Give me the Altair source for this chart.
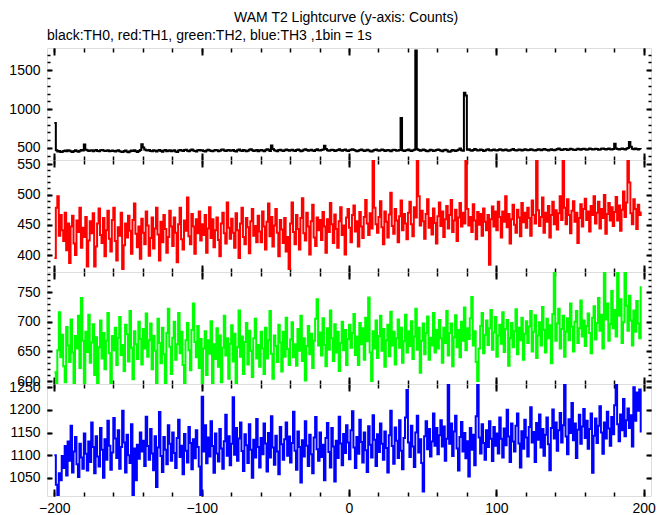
import altair as alt
import pandas as pd

FONT = "Liberation Sans"
title_main = "WAM T2 Lightcurve (y-axis: Counts)"
title_sub = "black:TH0, red:TH1, green:TH2, blue:TH3 ,1bin = 1s"

t_start = -200
x_domain = [-205, 205]
x_major = [-200, -100, 0, 100, 200]
x_minor = list(range(-200, 201, 20))

# TH0 (black) counts, 1 s bins starting at t = -200
th0 = [
    820, 470, 455, 462, 448, 452, 460, 466, 458, 470, 463, 455, 449, 461, 470, 458, 452, 464, 473, 467,
    545, 478, 470, 462, 468, 471, 459, 466, 474, 462, 457, 469, 475, 466, 460, 463, 471, 458, 462, 468,
    461, 455, 463, 470, 458, 450, 447, 460, 466, 452, 444, 458, 468, 461, 470, 456, 449, 462, 472, 548,
    505, 480, 471, 466, 475, 461, 458, 470, 463, 455, 468, 474, 462, 450, 466, 472, 459, 464, 470, 457,
    463, 471, 455, 449, 466, 475, 468, 460, 472, 478, 465, 459, 470, 481, 468, 462, 455, 469, 474, 466,
    471, 460, 454, 468, 477, 470, 462, 458, 466, 473, 469, 457, 463, 476, 480, 468, 461, 470, 475, 463,
    468, 474, 460, 455, 470, 479, 466, 461, 473, 468, 457, 463, 478, 482, 470, 462, 468, 475, 459, 466,
    472, 466, 458, 470, 484, 476, 462, 530, 488, 470, 464, 458, 472, 477, 466, 460, 469, 480, 473, 465,
    470, 477, 468, 462, 473, 481, 469, 458, 465, 476, 484, 472, 463, 470, 478, 467, 461, 474, 482, 470,
    466, 473, 480, 528, 487, 471, 464, 469, 478, 472, 460, 466, 475, 483, 470, 464, 472, 479, 468, 461,
    470, 477, 484, 472, 466, 458, 463, 474, 480, 469, 462, 468, 476, 471, 459, 455, 466, 473, 479, 470,
    464, 471, 480, 475, 462, 468, 474, 466, 459, 470, 478, 472, 463, 467, 475, 885, 470, 462, 468, 474,
    479, 466, 460, 471, 477, 1752, 482, 472, 465, 470, 479, 473, 462, 458, 468, 476, 470, 461, 466, 474,
    480, 472, 463, 459, 470, 477, 469, 455, 451, 463, 472, 466, 460, 470, 478, 492, 470, 463, 1210, 1175,
    476, 482, 470, 464, 472, 485, 478, 466, 470, 481, 474, 462, 468, 477, 484, 471, 466, 475, 481, 470,
    466, 474, 483, 476, 468, 472, 480, 471, 463, 469, 478, 485, 474, 466, 471, 480, 476, 468, 473, 482,
    477, 469, 474, 484, 478, 471, 466, 475, 483, 479, 470, 476, 486, 481, 472, 468, 477, 484, 475, 470,
    478, 486, 492, 480, 473, 479, 488, 482, 475, 481, 490, 484, 476, 472, 480, 489, 483, 477, 485, 491,
    482, 476, 484, 492, 486, 479, 483, 490, 485, 478, 481, 489, 494, 486, 480, 487, 493, 484, 479, 486,
    555, 492, 485, 481, 488, 494, 486, 480, 489, 500, 577, 515, 490, 484, 492, 487, 480, 486, 482,
]

# TH1 (red)
th1 = [
    395, 478, 497, 432, 466, 441, 423, 470, 408, 452, 387, 447, 465, 419, 400, 457, 438, 478, 412, 445,
    430, 463, 381, 424, 456, 436, 469, 381, 414, 452, 477, 433, 420, 461, 398, 441, 473, 427, 406, 458,
    478, 423, 391, 446, 432, 470, 377, 416, 452, 429, 465, 440, 402, 458, 485, 435, 413, 447, 394, 460,
    437, 418, 472, 449, 399, 428, 462, 411, 444, 478, 434, 391, 455, 421, 466, 443, 404, 430, 473, 447,
    415, 462, 437, 388, 451, 478, 426, 409, 457, 440, 495, 431, 418, 468, 447, 402, 459, 436, 472, 424,
    451, 433, 466, 404, 444, 479, 428, 459, 413, 441, 462, 425, 398, 452, 470, 436, 419, 487, 445, 427,
    460, 437, 412, 469, 441, 395, 452, 478, 430, 418, 461, 446, 403, 456, 476, 432, 448, 421, 465, 439,
    421, 472, 447, 409, 455, 485, 431, 463, 414, 449, 476, 437, 398, 458, 442, 420, 461, 406, 430, 377,
    452, 487, 438, 418, 466, 443, 409, 461, 494, 436, 424, 470, 447, 401, 456, 483, 429, 415, 462, 441,
    458, 425, 471, 447, 404, 459, 438, 486, 451, 420, 467, 443, 412, 456, 479, 433, 449, 401, 462, 476,
    445, 421, 466, 482, 439, 456, 414, 471, 447, 428, 463, 491, 452, 433, 469, 444, 560, 478, 451, 437,
    463, 489, 446, 418, 472, 455, 429, 467, 503, 448, 435, 476, 457, 421, 464, 490, 441, 468, 452, 426,
    470, 488, 451, 431, 479, 462, 560, 497, 449, 473, 456, 427, 468, 492, 445, 461, 434, 477, 453, 419,
    464, 487, 448, 472, 430, 459, 481, 444, 466, 491, 438, 457, 475, 423, 462, 486, 447, 470, 452, 560,
    476, 449, 463, 438, 484, 457, 426, 471, 450, 468, 432, 477, 455, 441, 466, 384, 459, 480, 447, 472,
    441, 488, 463, 429, 472, 455, 497, 446, 468, 419, 459, 483, 450, 437, 475, 462, 431, 486, 454, 470,
    445, 478, 461, 432, 490, 466, 452, 560, 474, 448, 463, 495, 437, 470, 455, 481, 429, 466, 488, 451,
    474, 442, 469, 497, 458, 556, 478, 451, 492, 466, 436, 473, 489, 455, 470, 420, 461, 484, 447, 476,
    493, 458, 472, 439, 481, 466, 497, 452, 470, 488, 444, 476, 461, 499, 435, 468, 486, 457, 479, 448,
    471, 496, 457, 482, 440, 475, 505, 463, 487, 560, 520, 469, 451, 492, 476, 443, 483, 466, 472,
]

# TH2 (green)
th2 = [
    615, 590, 652, 716, 640, 678, 625, 598, 691, 660, 632, 704, 648, 592, 676, 655, 710, 622, 740, 668,
    594, 683, 649, 712, 631, 665, 696, 610, 674, 592, 657, 702, 638, 681, 620, 668, 715, 647, 593, 676,
    652, 690, 627, 673, 708, 644, 661, 617, 695, 679, 633, 718, 656, 603, 684, 662, 637, 700, 671, 628,
    688, 655, 714, 641, 669, 697, 620, 676, 651, 592, 705, 664, 630, 690, 645, 596, 681, 722, 658, 612,
    673, 700, 636, 662, 715, 647, 683, 627, 593, 669, 698, 652, 618, 686, 731, 666, 640, 693, 622, 671,
    592, 655, 684, 610, 669, 646, 701, 593, 662, 637, 689, 624, 677, 598, 656, 710, 643, 672, 604, 663,
    694, 633, 680, 592, 657, 719, 641, 675, 612, 666, 698, 628, 685, 651, 607, 672, 705, 638, 661, 624,
    683, 655, 612, 690, 638, 669, 718, 646, 604, 677, 659, 632, 695, 665, 616, 683, 641, 707, 654, 627,
    670, 699, 640, 662, 626, 688, 651, 710, 634, 672, 601, 659, 693, 645, 680, 622, 668, 705, 738, 660,
    682, 643, 706, 661, 625, 689, 653, 719, 672, 634, 696, 648, 683, 617, 664, 700, 652, 686, 627, 671,
    695, 656, 681, 713, 644, 675, 627, 698, 662, 689, 636, 707, 667, 741, 648, 600, 684, 655, 702, 639,
    676, 710, 651, 688, 624, 669, 695, 642, 717, 660, 683, 628, 672, 704, 656, 690, 631, 667, 712, 648,
    684, 659, 701, 637, 675, 722, 653, 690, 614, 668, 697, 645, 681, 709, 636, 673, 660, 715, 648, 686,
    655, 703, 672, 631, 690, 664, 718, 643, 681, 697, 625, 674, 711, 657, 686, 640, 700, 668, 724, 652,
    689, 671, 706, 742, 660, 684, 632, 600, 655, 693, 715, 647, 678, 702, 661, 689, 720, 653, 682, 708,
    641, 677, 695, 663, 716, 649, 688, 703, 626, 672, 698, 657, 684, 721, 645, 690, 669, 707, 636, 680,
    701, 664, 692, 718, 650, 683, 711, 639, 677, 699, 660, 725, 686, 648, 705, 672, 694, 630, 713, 790,
    668, 697, 722, 655, 688, 710, 641, 683, 706, 669, 731, 692, 650, 700, 718, 664, 689, 736, 675, 702,
    659, 693, 714, 681, 647, 707, 726, 670, 698, 740, 685, 712, 655, 790, 704, 731, 668, 696, 752, 689,
    720, 675, 790, 710, 738, 664, 699, 790, 727, 685, 744, 702, 660, 719, 683, 735, 697, 672, 760,
]

# TH3 (blue)
th3 = [
    1100, 1035, 1010, 1060, 1045, 1098, 1072, 1120, 1055, 1130, 1088, 1165, 1062, 1108, 1140, 1080, 1052, 1125, 1095, 1070,
    1148, 1103, 1066, 1130, 1085, 1172, 1118, 1060, 1142, 1097, 1075, 1160, 1112, 1050, 1135, 1090, 1176, 1121, 1068, 1106,
    1182, 1137, 1094, 1155, 1070, 1118, 1198, 1128, 1062, 1145, 1100, 1083, 1168, 1010, 1115, 1045, 1123, 1092, 1150, 1108,
    1132, 1076, 1185, 1120, 1090, 1158, 1104, 1067, 1142, 1030, 1117, 1195, 1098, 1063, 1140, 1112, 1080, 1166, 1125, 1088,
    1150, 1105, 1072, 1138, 1178, 1096, 1121, 1058, 1147, 1110, 1084, 1162, 1127, 1069, 1135, 1093, 1155, 1118, 1075, 1012,
    1229, 1108, 1166, 1082, 1139, 1097, 1175, 1120, 1061, 1148, 1104, 1086, 1158, 1115, 1070, 1131, 1189, 1099, 1142, 1078,
    1125, 1228, 1101, 1160, 1088, 1137, 1172, 1109, 1065, 1146, 1122, 1083, 1168, 1112, 1050, 1134, 1095, 1180, 1118, 1073,
    1138, 1102, 1170, 1126, 1064, 1149, 1095, 1186, 1117, 1079, 1143, 1108, 1058, 1162, 1124, 1090, 1135, 1172, 1099, 1141,
    1084, 1127, 1196, 1110, 1068, 1152, 1118, 1040, 1133, 1097, 1175, 1121, 1076, 1145, 1102, 1060, 1139, 1184, 1113, 1088,
    1150, 1096, 1123, 1045, 1138, 1171, 1107, 1073, 1160, 1119, 1042, 1132, 1094, 1185, 1126, 1078, 1147, 1105, 1166, 1128,
    1091, 1155, 1197, 1117, 1072, 1140, 1103, 1178, 1129, 1084, 1150, 1111, 1063, 1164, 1123, 1095, 1188, 1134, 1076, 1146,
    1107, 1170, 1125, 1090, 1152, 1116, 1062, 1144, 1198, 1120, 1081, 1161, 1132, 1094, 1177, 1110, 1069, 1138, 1183, 1244,
    1128, 1096, 1165, 1119, 1074, 1150, 1187, 1106, 1135, 1083, 1020, 1142, 1175, 1113, 1158, 1097, 1130, 1192, 1121, 1160,
    1102, 1144, 1177, 1119, 1163, 1088, 1136, 1257, 1125, 1170, 1098, 1152, 1187, 1115, 1066, 1140, 1173, 1108, 1149, 1093,
    1131, 1053, 1160, 1112, 1145, 1078, 1186, 1257, 1139, 1104, 1168, 1127, 1090, 1155, 1118, 1175, 1136, 1087, 1162, 1121,
    1148, 1104, 1183, 1136, 1095, 1159, 1122, 1200, 1141, 1085, 1170, 1130, 1108, 1165, 1192, 1126, 1073, 1153, 1114, 1178,
    1139, 1097, 1162, 1206, 1128, 1151, 1085, 1171, 1134, 1190, 1117, 1158, 1099, 1145, 1183, 1124, 1067, 1160, 1201, 1137,
    1172, 1110, 1155, 1193, 1128, 1166, 1257, 1141, 1102, 1179, 1149, 1215, 1133, 1170, 1094, 1156, 1189, 1125, 1163, 1202,
    1138, 1176, 1114, 1158, 1192, 1061, 1143, 1181, 1127, 1165, 1208, 1150, 1103, 1172, 1137, 1196, 1159, 1121, 1184, 1146,
    1210, 1257, 1168, 1131, 1190, 1155, 1224, 1142, 1177, 1203, 1160, 1188, 1119, 1250, 1176, 1238, 1198, 1245, 1150,
]

colors = ["#000000", "#ff0000", "#00ff00", "#0000ff"]
line_widths = [2.0, 2.0, 2.0, 2.0]
y_domains = [[345, 1785], [372, 557], [595, 784], [1010, 1257]]
y_labels = [
    [500, 1000, 1500],
    [400, 450, 500, 550],
    [600, 650, 700, 750],
    [1050, 1100, 1150, 1200, 1250],
]
y_minor = [
    list(range(400, 1800, 100)),
    list(range(380, 560, 10)),
    list(range(600, 790, 10)),
    [1050, 1100, 1150, 1200, 1250],
]

W = 604
H = 112


def panel(values, color, sw, ydom, ylab, ymin, show_x, title=None):
    df = pd.DataFrame({"t": [t_start + i for i in range(len(values))], "c": values})
    one = df.iloc[:1]

    def xs():
        return alt.Scale(domain=x_domain, nice=False, zero=False)

    def ys():
        return alt.Scale(domain=ydom, nice=False, zero=False)

    yaxis = alt.Axis(values=ylab, ticks=False, tickSize=0, domain=False, grid=False,
                     labelFont=FONT, labelFontSize=14, labelColor="black",
                     labelPadding=7, format="d", title=None)
    if show_x:
        xenc = alt.X("t:Q", scale=xs(), axis=alt.Axis(
            values=x_major, ticks=False, tickSize=0, domain=False, grid=False,
            labelFont=FONT, labelFontSize=14, labelColor="black", labelPadding=5,
            labelFlush=False, format="d", title=None))
    else:
        xenc = alt.X("t:Q", scale=xs(), axis=None)

    line = alt.Chart(df).mark_line(
        interpolate="step-after", color=color, strokeWidth=sw, clip=True
    ).encode(x=xenc, y=alt.Y("c:Q", scale=ys(), axis=yaxis))

    layers = [line]
    specs = [
        ("bottom", "left", 7, 5, x_major, ylab, 2),
        ("bottom", "left", 4, 3, x_minor, ymin, 1.5),
        ("top", "right", 7, 5, x_major, ylab, 2),
        ("top", "right", 4, 3, x_minor, ymin, 1.5),
    ]
    for ox, oy, sx, sy, xv, yv, tw in specs:
        ax = alt.Axis(orient=ox, values=xv, labels=False, domain=False, grid=False,
                      ticks=True, tickSize=sx, offset=-sx, tickColor="black",
                      tickWidth=tw, title=None)
        ay = alt.Axis(orient=oy, values=yv, labels=False, domain=False, grid=False,
                      ticks=True, tickSize=sy, offset=-sy, tickColor="black",
                      tickWidth=tw, title=None)
        layers.append(
            alt.Chart(one).mark_point(opacity=0).encode(
                x=alt.X("t:Q", scale=xs(), axis=ax),
                y=alt.Y("c:Q", scale=ys(), axis=ay),
            )
        )
    ch = alt.layer(*layers).resolve_scale(x="independent", y="independent").properties(
        width=W, height=H)
    if title:
        ch = ch.properties(title=alt.Title(title, anchor="start", frame="group",
                                           font=FONT, fontSize=14, fontWeight="normal",
                                           color="black", offset=4))
    return ch


series = [th0, th1, th2, th3]
panels = []
for i in range(4):
    panels.append(panel(series[i], colors[i], line_widths[i], y_domains[i], y_labels[i],
                        y_minor[i], show_x=(i == 3), title=title_sub if i == 0 else None))

chart = alt.vconcat(*panels, spacing=0, bounds="flush").properties(
    title=alt.Title(title_main, anchor="middle", font=FONT, fontSize=14,
                    fontWeight="normal", color="black", dx=14, offset=4),
    padding={"left": 0, "top": 2, "right": 0, "bottom": 0},
).configure_view(stroke="black", strokeWidth=1.5).configure(background="white")

chart.save("out.html", embed_options={"renderer": "svg", "actions": False})
